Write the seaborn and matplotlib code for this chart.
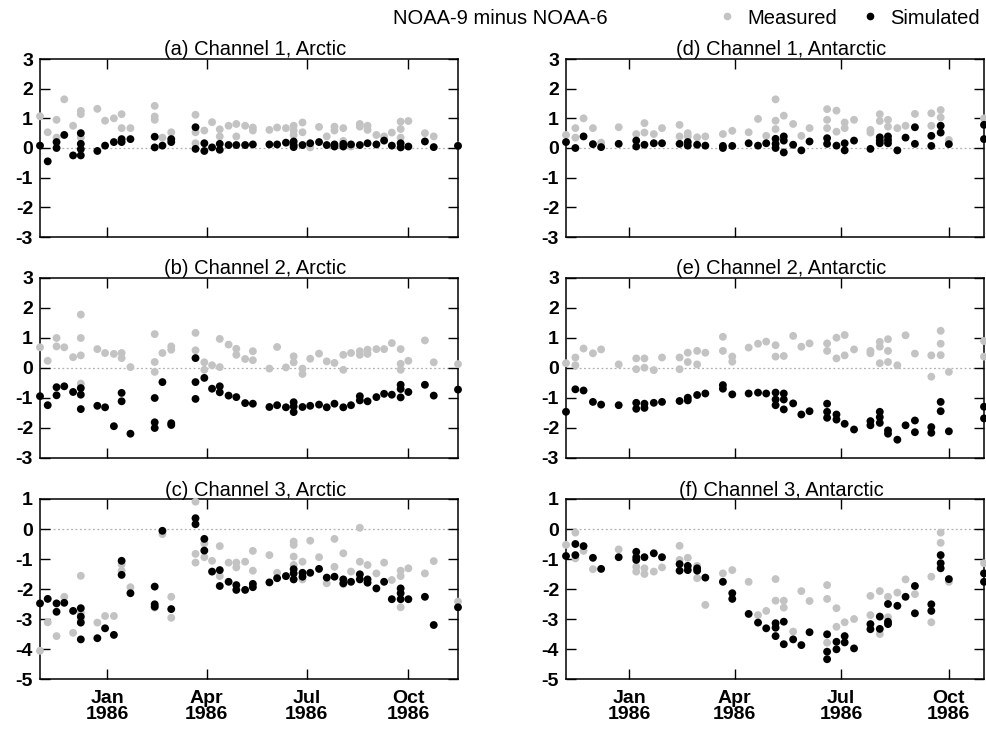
import matplotlib
matplotlib.use("Agg")
import matplotlib.pyplot as plt
from matplotlib.lines import Line2D
import seaborn as sns
import pandas as pd

# ---------------- data ----------------
obs_dates = ["1985-11-01", "1985-11-08", "1985-11-16", "1985-11-23", "1985-12-01", "1985-12-08",
             "1985-12-16", "1985-12-23", "1985-12-30", "1986-01-07", "1986-01-14", "1986-01-22",
             "1986-01-29", "1986-02-06", "1986-02-13", "1986-02-20", "1986-02-28", "1986-03-07",
             "1986-03-15", "1986-03-22", "1986-03-30", "1986-04-06", "1986-04-13", "1986-04-21",
             "1986-04-28", "1986-05-06", "1986-05-13", "1986-05-21", "1986-05-28", "1986-06-04",
             "1986-06-12", "1986-06-19", "1986-06-27", "1986-07-04", "1986-07-12", "1986-07-19",
             "1986-07-26", "1986-08-03", "1986-08-10", "1986-08-18", "1986-08-25", "1986-09-02",
             "1986-09-09", "1986-09-16", "1986-09-24", "1986-10-01", "1986-10-09", "1986-10-16",
             "1986-10-24", "1986-10-31", "1986-11-07", "1986-11-15"]

# (index into obs_dates, [values])
a_meas = [(0, [1.07]), (1, [0.53]), (2, [0.95, 0.35]), (3, [1.64]), (4, [0.75]), (5, [1.25, 1.14, 0.35]),
          (7, [1.32]), (8, [0.92]), (9, [1.0]), (10, [1.14, 0.67]), (11, [0.67]), (14, [1.42, 1.06, 0.95]),
          (15, [0.35]), (16, [0.53]), (19, [1.12, 0.53, 0.16]), (20, [0.59]), (21, [0.87]), (22, [0.63, 0.39]),
          (23, [0.75]), (24, [0.81, 0.39]), (25, [0.75]), (26, [0.69, 0.59]), (28, [0.61]), (29, [0.69]),
          (30, [0.67]), (31, [0.75, 0.59, 0.44]), (32, [0.86, 0.53]), (33, [0.02]), (34, [0.71]), (35, [0.39]),
          (36, [0.72, 0.59]), (37, [0.67, 0.24]), (38, [0.05]), (39, [0.81, 0.72]), (40, [0.75, 0.61]),
          (41, [0.44]), (42, [0.39]), (43, [0.52]), (44, [0.89, 0.64, 0.35]), (45, [0.91]), (47, [0.5]),
          (48, [0.39]), (51, [0.08])]
a_sim = [(0, [0.08]), (1, [-0.45]), (2, [0.2, 0.0]), (3, [0.44]), (4, [-0.25]), (5, [0.5, 0.14, -0.04, -0.25]),
         (7, [-0.1]), (8, [0.08]), (9, [0.2]), (10, [0.3, 0.2]), (11, [0.3]), (14, [0.38, 0.02]), (15, [0.08]),
         (16, [0.3, 0.2]), (19, [0.7, -0.03]), (20, [0.16, -0.1]), (21, [0.02]), (22, [0.14, -0.06]), (23, [0.1]),
         (24, [0.1]), (25, [0.1]), (26, [0.12]), (28, [0.12]), (29, [0.12]), (30, [0.18]), (31, [0.22, 0.1, 0.03]),
         (32, [0.1]), (33, [0.16]), (34, [0.2]), (35, [0.1]), (36, [0.12, 0.05]), (37, [0.14, 0.05]), (38, [0.12]),
         (39, [0.1]), (40, [0.16]), (41, [0.12]), (42, [0.25]), (43, [0.08]), (44, [0.16, 0.02]), (45, [0.05]),
         (47, [0.22]), (48, [0.03]), (51, [0.07])]

b_meas = [(0, [0.69]), (1, [0.24]), (2, [1.0, 0.72]), (3, [0.69]), (4, [0.36]), (5, [1.78, 1.0, 0.42, -0.52]),
          (7, [0.63]), (8, [0.5]), (9, [0.47]), (10, [0.5, 0.33]), (11, [0.03]), (14, [1.13, 0.2, -0.13]),
          (15, [0.5]), (16, [0.72, 0.61]), (19, [1.17, 0.59]), (20, [0.19, -0.06]), (21, [0.09]), (22, [0.97, 0.03]),
          (23, [0.78]), (24, [0.64, 0.44]), (25, [0.3]), (26, [0.56, 0.26]), (28, [-0.02]), (29, [0.7]), (30, [0.02]),
          (31, [0.39, 0.19]), (32, [-0.02, -0.2]), (33, [0.31]), (34, [0.48]), (35, [0.22]), (36, [0.17]),
          (37, [0.44, -0.06]), (38, [0.5]), (39, [0.56, 0.44]), (40, [0.61, 0.47]), (41, [0.63]), (42, [0.63]),
          (43, [0.83]), (44, [0.63, 0.14, -0.06]), (45, [0.24]), (47, [0.92]), (48, [0.19]), (51, [0.13])]
b_sim = [(0, [-0.94]), (1, [-1.24]), (2, [-0.64, -0.91]), (3, [-0.61]), (4, [-0.8]), (5, [-0.67, -0.89, -1.37]),
         (7, [-1.26]), (8, [-1.31]), (9, [-1.94]), (10, [-0.83, -1.11]), (11, [-2.19]), (14, [-1.0, -1.81, -2.0]),
         (15, [-0.47]), (16, [-1.84, -1.9]), (19, [0.33, -0.47, -1.03]), (20, [-0.33]), (21, [-0.69]),
         (22, [-0.61, -0.81]), (23, [-0.92]), (24, [-0.97]), (25, [-1.17]), (26, [-1.19]), (28, [-1.3]),
         (29, [-1.24]), (30, [-1.31]), (31, [-1.14, -1.28, -1.47]), (32, [-1.3]), (33, [-1.26]), (34, [-1.22]),
         (35, [-1.31]), (36, [-1.19]), (37, [-1.31]), (38, [-1.24]), (39, [-0.94, -1.08]), (40, [-1.11]),
         (41, [-0.97]), (42, [-0.86]), (43, [-0.89]), (44, [-0.56, -0.7, -0.98]), (45, [-0.8]), (47, [-0.56]),
         (48, [-0.92]), (51, [-0.72])]

c_meas = [(0, [-4.06]), (1, [-3.11]), (2, [-3.57]), (3, [-2.26]), (4, [-3.46]), (5, [-1.56, -2.79, -3.03]),
          (7, [-3.12]), (8, [-2.9]), (9, [-2.9]), (10, [-1.18, -1.39]), (11, [-1.94]), (14, [-2.62]), (15, [-0.17]),
          (16, [-2.26, -2.96]), (19, [0.91, -0.83, -1.12]), (20, [-0.48, -0.94]), (21, [-1.06]), (22, [-0.57, -1.57]),
          (23, [-1.12]), (24, [-1.12, -1.28]), (25, [-1.09]), (26, [-0.73, -1.39]), (28, [-0.87]), (29, [-1.46]),
          (30, [-1.57]), (31, [-0.42, -0.53, -0.92, -1.2]), (32, [-1.09, -1.68]), (33, [-0.39]), (34, [-0.94]),
          (35, [-1.81]), (36, [-0.33, -1.26]), (37, [-0.81, -1.84]), (38, [-1.42]), (39, [0.04, -1.09]),
          (40, [-1.2]), (41, [-1.48]), (42, [-1.12]), (43, [-1.7]), (44, [-1.39, -1.57, -2.61]), (45, [-1.31]),
          (47, [-1.48]), (48, [-1.07]), (51, [-2.42])]
c_sim = [(0, [-2.48]), (1, [-2.33]), (2, [-2.48, -2.76]), (3, [-2.46]), (4, [-2.73]), (5, [-2.64, -2.92, -3.12, -3.68]),
         (7, [-3.64]), (8, [-3.31]), (9, [-3.53]), (10, [-1.06, -1.53]), (11, [-2.14]), (14, [-1.92, -2.51, -2.59]),
         (15, [-0.06]), (16, [-2.67]), (19, [0.36, 0.16]), (20, [-0.33, -0.72]), (21, [-1.42]), (22, [-1.37, -1.9]),
         (23, [-1.76]), (24, [-1.87, -2.03]), (25, [-2.03]), (26, [-1.83, -1.94]), (28, [-1.78]), (29, [-1.64]),
         (30, [-1.57]), (31, [-1.34, -1.48, -1.68]), (32, [-1.46, -1.59]), (33, [-1.46]), (34, [-1.33]),
         (35, [-1.62]), (36, [-1.59]), (37, [-1.68, -1.81]), (38, [-1.76]), (39, [-1.51, -1.68]),
         (40, [-1.68, -1.79]), (41, [-1.98]), (42, [-1.76]), (43, [-2.34]), (44, [-1.98, -2.14, -2.34]),
         (45, [-2.34]), (47, [-2.26]), (48, [-3.2]), (51, [-2.61])]

d_meas = [(1, [0.44]), (2, [0.67, 0.35]), (3, [1.0]), (4, [0.67]), (5, [0.18]), (7, [0.7]), (9, [0.47]),
          (10, [0.84, 0.52]), (11, [0.47]), (12, [0.67]), (14, [0.78, 0.39]), (15, [0.5, 0.39]), (16, [0.36]),
          (17, [0.39]), (19, [0.47]), (20, [0.58]), (22, [0.53]), (23, [0.98]), (24, [0.41]), (25, [1.64, 0.92, 0.64]),
          (26, [1.09]), (27, [0.81]), (28, [0.41]), (29, [0.67]), (31, [1.31, 0.95, 0.67]), (32, [1.26, 0.55]),
          (33, [0.86, 0.67]), (34, [0.95]), (36, [0.61, 0.52]), (37, [1.14, 0.91]), (38, [0.95, 0.72]), (39, [0.67]),
          (40, [0.75]), (41, [1.15]), (43, [1.17, 0.75]), (44, [1.28, 1.03]), (45, [0.27]), (49, [1.0])]
d_sim = [(1, [0.2]), (2, [0.0]), (3, [0.39]), (4, [0.13]), (5, [0.03]), (7, [0.14]), (9, [0.25, 0.05]), (10, [0.11]),
         (11, [0.16]), (12, [0.16]), (14, [0.14]), (15, [0.2, 0.08]), (16, [0.11]), (17, [0.08]), (19, [0.07, 0.0]),
         (20, [0.07]), (22, [0.16]), (23, [0.08]), (24, [0.16]), (25, [0.31, 0.14, 0.0]), (26, [0.39, 0.25, -0.15]),
         (27, [0.11]), (28, [-0.08]), (29, [0.22]), (31, [0.33, 0.14]), (32, [0.08]), (33, [0.16, -0.08]),
         (34, [0.25]), (36, [-0.03]), (37, [0.36, 0.25, 0.16]), (38, [0.39, 0.27, 0.16]), (39, [-0.08]),
         (40, [0.35]), (41, [0.7, 0.14]), (43, [0.41, 0.07]), (44, [0.75, 0.52]), (45, [0.13]), (49, [0.78, 0.3])]

e_meas = [(1, [0.16]), (2, [0.35, 0.09]), (3, [0.65]), (4, [0.49]), (5, [0.62]), (7, [0.12]), (9, [0.32, -0.04]),
          (10, [0.32, 0.01]), (11, [-0.07]), (12, [0.35]), (14, [0.35, -0.04]), (15, [0.51, 0.2]), (16, [0.57, 0.12]),
          (17, [0.51]), (19, [1.04, 0.57]), (20, [0.38, 0.21]), (22, [0.68]), (23, [0.81]), (24, [0.88]),
          (25, [0.76, 0.38]), (26, [0.4]), (27, [1.07]), (28, [0.71]), (29, [0.82]), (31, [0.82, 0.57]),
          (32, [1.01, 0.32]), (33, [1.1, 0.42]), (34, [0.62]), (36, [0.57, 0.49]), (37, [0.87, 0.71, 0.16]),
          (38, [0.96, 0.57, 0.2]), (39, [0.09]), (40, [1.09]), (41, [0.48]), (43, [0.42, -0.29]),
          (44, [1.24, 0.81, 0.43]), (45, [-0.13]), (49, [0.9, 0.38])]
e_sim = [(1, [-1.46]), (2, [-0.71]), (3, [-0.75]), (4, [-1.13]), (5, [-1.22]), (7, [-1.24]), (9, [-1.16, -1.36]),
         (10, [-1.19, -1.33]), (11, [-1.16]), (12, [-1.13]), (14, [-1.1]), (15, [-0.99, -1.08]), (16, [-0.9]),
         (17, [-0.85]), (19, [-0.57, -0.69]), (20, [-0.88]), (22, [-0.85]), (23, [-0.82]), (24, [-0.85]),
         (25, [-0.82, -1.05, -1.24]), (26, [-0.85, -1.05, -1.38]), (27, [-1.18]), (28, [-1.55]), (29, [-1.44]),
         (31, [-1.19, -1.46, -1.66]), (32, [-1.55, -1.72]), (33, [-1.86]), (34, [-2.05]), (36, [-1.77, -1.91]),
         (37, [-1.46, -1.64, -1.83]), (38, [-2.08, -2.19]), (39, [-2.39]), (40, [-1.91]), (41, [-1.75, -2.14]),
         (43, [-1.97, -2.16]), (44, [-1.13, -1.44]), (45, [-2.11]), (49, [-1.29, -1.68])]

f_meas = [(1, [-0.53]), (2, [-0.12, -0.98]), (3, [-0.73]), (4, [-1.34]), (7, [-0.68]), (9, [-1.26, -1.42]),
          (10, [-1.31, -1.5]), (11, [-1.42]), (12, [-1.28]), (14, [-0.56, -1.03]), (15, [-0.96]), (16, [-1.23, -1.64]),
          (17, [-2.53]), (19, [-1.48]), (20, [-1.37]), (22, [-1.76]), (23, [-2.87]), (24, [-2.73]), (25, [-1.67, -2.39]),
          (26, [-2.39, -2.62]), (27, [-3.42]), (28, [-2.07]), (29, [-2.4]), (31, [-1.87, -2.33, -3.79]),
          (32, [-2.64, -3.26]), (33, [-3.11]), (34, [-3.0]), (36, [-2.23, -2.87]), (37, [-2.07, -3.5]),
          (38, [-2.26, -2.94]), (39, [-2.12]), (40, [-1.68]), (41, [-2.17]), (43, [-1.59, -3.11]),
          (44, [-0.12, -0.46]), (45, [-1.76]), (49, [-1.14])]
f_sim = [(1, [-0.9]), (2, [-0.5, -0.87]), (3, [-0.57]), (4, [-0.96]), (5, [-1.33]), (7, [-0.94]),
         (9, [-0.76, -0.94, -1.03]), (10, [-0.94]), (11, [-0.81]), (12, [-0.94]), (14, [-1.17, -1.39]),
         (15, [-1.23, -1.37]), (16, [-1.31, -1.39]), (17, [-1.62]), (19, [-1.76]), (20, [-2.14, -2.33]),
         (22, [-2.83]), (23, [-3.12]), (24, [-3.31]), (25, [-3.14, -3.29, -3.57]), (26, [-3.09, -3.84]),
         (27, [-3.68]), (28, [-3.87]), (29, [-3.44]), (31, [-3.51, -4.09, -4.34]), (32, [-3.76, -4.01]),
         (33, [-3.57, -3.78]), (34, [-3.98]), (36, [-3.17, -3.34]), (37, [-2.92, -3.33]), (38, [-2.5, -3.09, -3.17]),
         (39, [-2.56]), (40, [-2.26]), (41, [-1.9, -2.81]), (43, [-2.51, -2.73]), (44, [-0.87, -1.14, -1.31]),
         (45, [-1.67]), (49, [-1.48, -1.76])]

panel_titles = ["(a) Channel 1, Arctic", "(b) Channel 2, Arctic", "(c) Channel 3, Arctic",
                "(d) Channel 1, Antarctic", "(e) Channel 2, Antarctic", "(f) Channel 3, Antarctic"]
series_names = ["Measured", "Simulated"]
tick_dates = ["1986-01-01", "1986-04-01", "1986-07-01", "1986-10-01"]
tick_labels = ["Jan\n1986", "Apr\n1986", "Jul\n1986", "Oct\n1986"]
yticks_ch12 = [-3, -2, -1, 0, 1, 2, 3]
yticks_ch3 = [-5, -4, -3, -2, -1, 0, 1]
xlim_left = ("1985-11-01", "1986-11-15")
xlim_right = ("1985-11-08", "1986-10-31")
main_title = "NOAA-9 minus NOAA-6"

# ---------------- style ----------------
sns.set_theme(style="white")
plt.rcParams["font.family"] = ["Liberation Sans", "DejaVu Sans"]
plt.rcParams["text.color"] = "black"
plt.rcParams["xtick.color"] = "black"
plt.rcParams["ytick.color"] = "black"
plt.rcParams["axes.labelcolor"] = "black"
palette = {"Measured": "#c3c3c3", "Simulated": "#000000"}


def make_frame(meas, sim):
    rows = []
    for name, data in zip(series_names, (meas, sim)):
        for idx, vals in data:
            for v in vals:
                rows.append((obs_dates[idx], v, name))
    df = pd.DataFrame(rows, columns=["date", "value", "series"])
    df["date"] = pd.to_datetime(df["date"])
    return df


fig = plt.figure(figsize=(9.87, 7.31), dpi=100)
W, H = 987.0, 731.0
col_x = [(40, 458), (566, 984)]
row_y = [(59, 237), (278, 458), (499, 679)]

panels = [(a_meas, a_sim), (b_meas, b_sim), (c_meas, c_sim),
          (d_meas, d_sim), (e_meas, e_sim), (f_meas, f_sim)]

for i, (meas, sim) in enumerate(panels):
    col, row = divmod(i, 3)
    x0, x1 = col_x[col]
    y0, y1 = row_y[row]
    ax = fig.add_axes([x0 / W, 1 - y1 / H, (x1 - x0) / W, (y1 - y0) / H])
    df = make_frame(meas, sim)
    ax.axhline(0, color="#b0b0b0", lw=0.9, ls=(0, (1.5, 2)), zorder=0)
    sns.scatterplot(data=df, x="date", y="value", hue="series", palette=palette,
                    s=32, linewidth=0, legend=False, ax=ax, zorder=3)
    for coll in ax.collections:
        coll.set_clip_on(False)
    xl = xlim_left if col == 0 else xlim_right
    ax.set_xlim(pd.Timestamp(xl[0]), pd.Timestamp(xl[1]))
    yt = yticks_ch3 if row == 2 else yticks_ch12
    ax.set_ylim(yt[0], yt[-1])
    ax.set_yticks(yt)
    ax.set_yticklabels([str(v) for v in yt], fontweight="bold", fontsize=14, color="black")
    ax.set_xticks([pd.Timestamp(t) for t in tick_dates])
    if row == 2:
        ax.set_xticklabels(tick_labels, fontweight="bold", fontsize=14, linespacing=0.95, color="black")
    else:
        ax.set_xticklabels([])
    ax.set_xlabel("")
    ax.set_ylabel("")
    ax.tick_params(direction="in", bottom=True, left=True, top=True, right=True,
                   length=7, width=1.0, color="black", pad=5)
    ax.tick_params(axis="x", pad=8)
    for sp in ax.spines.values():
        sp.set_visible(True)
        sp.set_linewidth(1.1)
        sp.set_color("black")
    ax.set_title(panel_titles[i], fontsize=14.5, pad=2, x=0.515, color="black")

fig.text(500 / W, 1 - 18 / H, main_title, ha="center", va="center", fontsize=14.5, color="black")

handles = [Line2D([], [], marker="o", ls="", color=palette[n], markersize=4.5) for n in series_names]
fig.legend(handles, series_names, loc="center", bbox_to_anchor=(851 / W, 1 - 18 / H),
           ncol=2, frameon=False, fontsize=14.5, handlelength=0.5, handletextpad=0.75,
           columnspacing=1.4, borderpad=0, borderaxespad=0)

fig.savefig("out.png", dpi=100)
